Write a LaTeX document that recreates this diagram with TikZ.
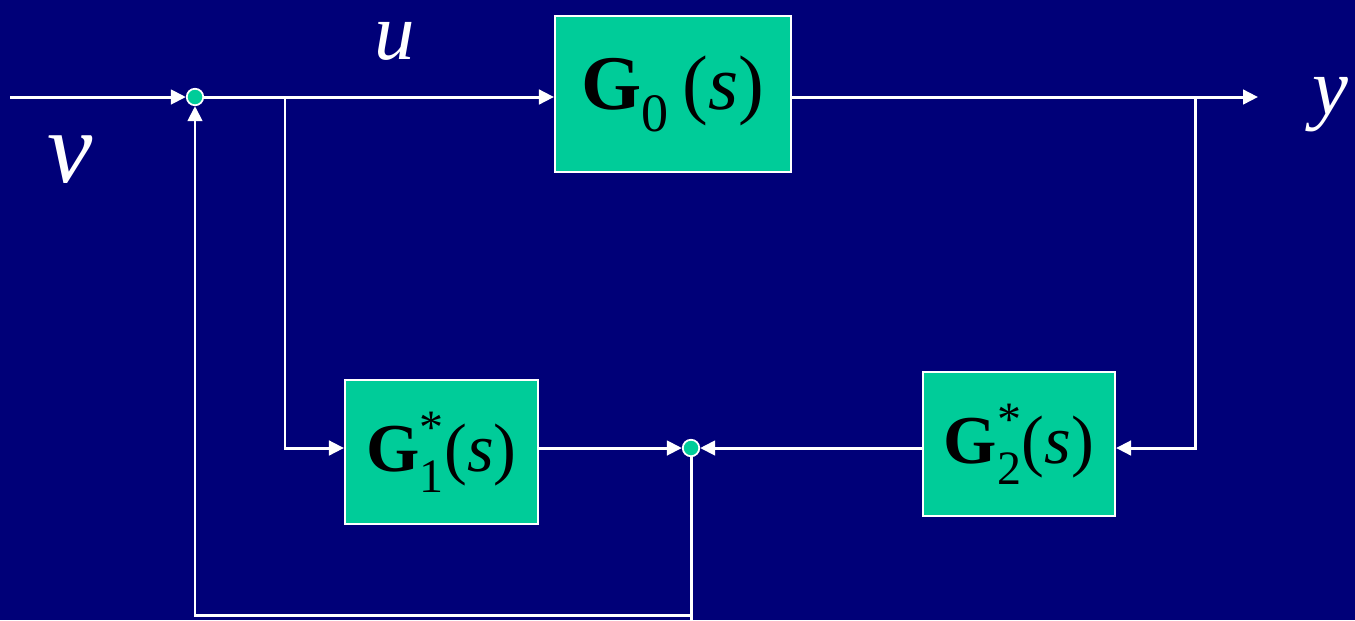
\documentclass[tikz,border=0pt]{standalone}
\usepackage{amsmath}
\usepackage{fontspec}
\setmainfont{Liberation Serif}[ItalicFont={Liberation Serif Italic},
  BoldFont={Liberation Serif Bold}]
\usetikzlibrary{arrows.meta, positioning}
\definecolor{Navy}{HTML}{000078}
\definecolor{Mint}{HTML}{00CC99}
\tikzset{
  tfbox/.style={draw=white, line width=1.2pt, fill=Mint, inner sep=0pt, align=center},
  sumdot/.style={circle, draw=white, line width=1pt, fill=Mint,
    minimum size=0.33cm, inner sep=0pt},
  sig/.style={draw=white, line width=1.7pt},
  sigar/.style={sig, -{Triangle[length=0.3cm, width=0.29cm]}},
  lbl/.style={text=white, inner sep=0pt},
}
\newcommand{\tfG}[3]{$\textbf{G}_{\text{\raisebox{-0.2em}{#1}}}^{\text{#2}}$#3(\textit{s})}

\begin{document}
\begin{tikzpicture}[x=0.02cm, y=-0.02cm]
    \fill[Navy] (0,0) rectangle (1355,620);
    \useasboundingbox (0,0) rectangle (1355,620);
    % blocks
    \node[tfbox, minimum width=4.72cm, minimum height=3.12cm,
      font=\fontsize{44}{48}\selectfont] (g0) at (673,94) {\tfG{0}{}{\,}};
    \node[tfbox, minimum width=3.86cm, minimum height=2.88cm,
      font=\fontsize{39}{42}\selectfont] (g1) at (441.5,452) {\tfG{1}{*}{}};
    \node[tfbox, minimum width=3.84cm, minimum height=2.88cm,
      font=\fontsize{39}{42}\selectfont] (g2) at (1019,444) {\tfG{2}{*}{}};
    % summing points
    \node[sumdot] (j1) at (195,97) {};
    \node[sumdot] (j2) at (691,448) {};
    \coordinate (in) at (10,97);
    \coordinate (out) at (1258,97);
    \coordinate (br1) at (285,97);
    \coordinate (br2) at (1195,97);
    \coordinate (fb) at (195,615);
    % signals
    \node[lbl, font=\fontsize{46}{50}\selectfont\itshape] (ulbl) at (395,41) {u};
    \node[lbl, font=\fontsize{58}{62}\selectfont\itshape] (vlbl) at (70,160) {v};
    \node[lbl, font=\fontsize{46}{50}\selectfont\itshape] (ylbl) at (1330,105) {y};
    % connectors
    \draw[sigar] (in) -- (j1);
    \draw[sigar] (j1) -- (g0.west |- j1);
    \draw[sigar] (g0.east |- j1) -- (out);
    \draw[sigar] (br1) |- (g1.west |- j2);
    \draw[sigar] (br2) |- (g2.east |- j2);
    \draw[sigar] (g1.east |- j2) -- (j2);
    \draw[sigar] (g2.west |- j2) -- (j2);
    \draw[sigar] (j2) |- (fb) -- (j1);
    \draw[sig] (j2 |- fb) -- ++(0,5);
\end{tikzpicture}
\end{document}
